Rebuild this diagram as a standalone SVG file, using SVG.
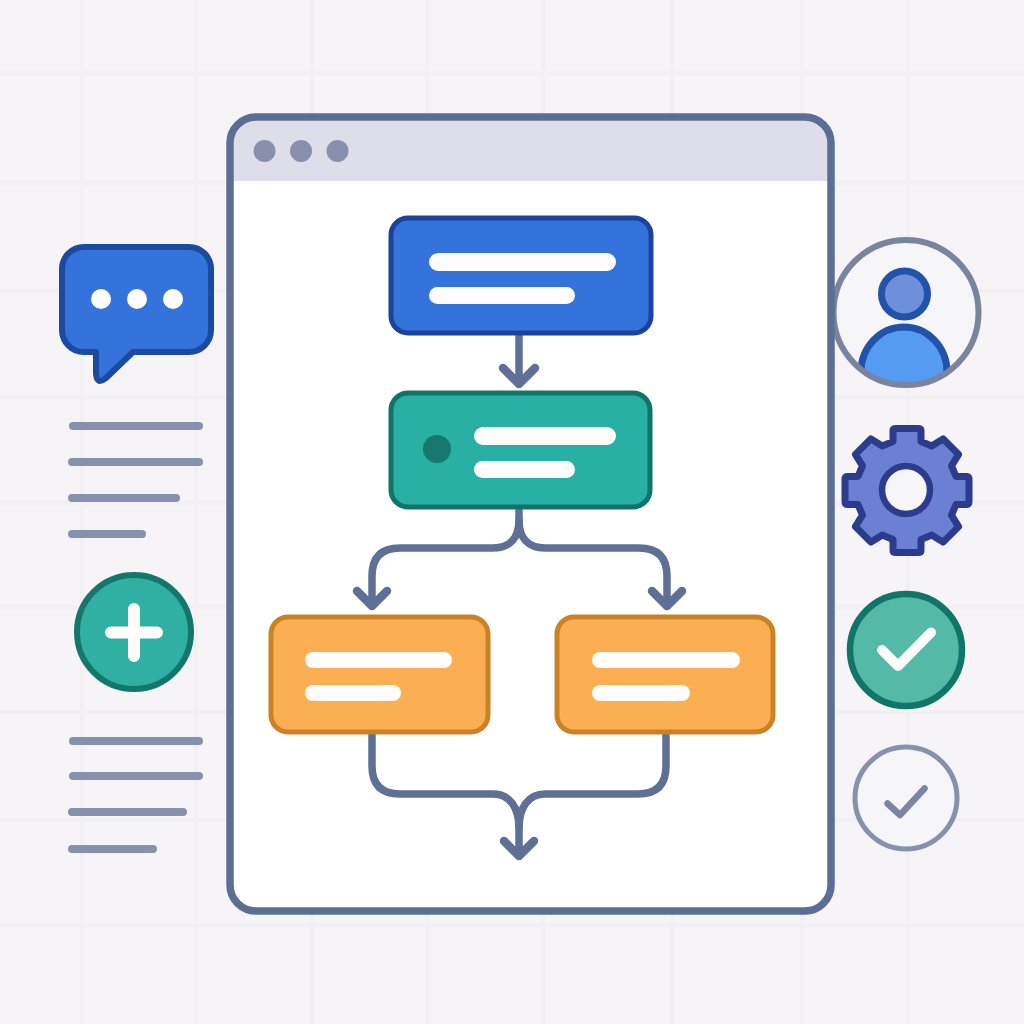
<svg xmlns="http://www.w3.org/2000/svg" width="1024" height="1024" viewBox="0 0 1024 1024">
<style>
.grid{stroke:#f2f0f3;stroke-width:4;fill:none}
.wire{stroke:#5f7096;stroke-width:7.5;fill:none;stroke-linecap:round;stroke-linejoin:round}
.head{stroke-width:8.500}
.bar{fill:#fefdfb}
.line{stroke:#8790ad;stroke-width:8;stroke-linecap:round}
.blue{fill:#3573dc;stroke:#1c439c;stroke-width:5}
.teal{fill:#29b0a5;stroke:#117468;stroke-width:5}
.orange{fill:#fcae52;stroke:#cb8126;stroke-width:5}
</style>
<rect width="1024" height="1024" fill="#f6f4f7"/>
<g id="grid" class="grid">
<path d="M0 73H1024M0 183H1024M0 291H1024M0 397H1024M0 503H1024M0 607H1024M0 712H1024M0 820H1024M0 925H1024"/>
<path d="M82 0V1024M196 0V1024M312 0V1024M427 0V1024M543 0V1024M672 0V1024M802 0V1024M908 0V1024"/>
</g>
<g id="user">
<circle cx="906" cy="312.500" r="72.500" fill="#f6f5f8"/>
<clipPath id="userclip"><circle cx="906" cy="312.500" r="72"/></clipPath>
<g clip-path="url(#userclip)">
<path d="M861 400V372a43 45 0 0 1 86 0V400Z" fill="#559af3" stroke="#2153a8" stroke-width="7"/>
</g>
<circle cx="904.500" cy="294" r="23" fill="#6d8fdc" stroke="#2153a8" stroke-width="7"/>
<circle cx="906" cy="312.500" r="72.500" fill="none" stroke="#7a849f" stroke-width="6"/>
</g>
<g id="window">
<rect x="230" y="117" width="601" height="794" rx="26" fill="#fff"/>
<path d="M230 181V143a26 26 0 0 1 26-26H805a26 26 0 0 1 26 26V181Z" fill="#dddee9"/>
<rect x="230" y="117" width="601" height="794" rx="26" fill="none" stroke="#5c6e94" stroke-width="7.500"/>
<circle cx="264.500" cy="151" r="11" fill="#8890ad"/>
<circle cx="301" cy="151" r="11" fill="#8890ad"/>
<circle cx="337.500" cy="151" r="11" fill="#8890ad"/>
</g>
<g id="connectors" class="wire">
<path d="M519 334V384"/>
<path class="head" d="M503 368L519 384L535 368"/>
<path d="M519 508V520C519 538 510 548 493 548H400Q372 548 372 576V606"/>
<path class="head" d="M357 591L372 606L387 591"/>
<path d="M519 520C519 538 528 548 545 548H639Q667 548 667 576V606"/>
<path class="head" d="M652 591L667 606L682 591"/>
<path d="M372 733V766Q372 794 400 794H493C510 794 519 808 519 828V856"/>
<path d="M666 733V766Q666 794 638 794H545C528 794 519 808 519 828"/>
<path class="head" d="M504 841L519 856L534 841"/>
</g>
<g id="node-start">
<rect class="blue" x="391" y="218" width="260" height="115" rx="17"/>
<rect class="bar" x="429" y="253" width="187" height="18" rx="9"/>
<rect class="bar" x="429" y="287" width="146" height="17" rx="8.500"/>
</g>
<g id="node-process">
<rect class="teal" x="391" y="393" width="259" height="114" rx="17"/>
<circle cx="437" cy="449" r="14" fill="#17786d"/>
<rect class="bar" x="474" y="427" width="142" height="18" rx="9"/>
<rect class="bar" x="474" y="461" width="101" height="17" rx="8.500"/>
</g>
<g id="node-left">
<rect class="orange" x="271" y="617" width="217" height="115" rx="17"/>
<rect class="bar" x="305" y="652" width="147" height="16" rx="8"/>
<rect class="bar" x="305" y="685" width="96" height="16" rx="8"/>
</g>
<g id="node-right">
<rect class="orange" x="557" y="617" width="216" height="115" rx="17"/>
<rect class="bar" x="592" y="652" width="148" height="16" rx="8"/>
<rect class="bar" x="592" y="685" width="98" height="16" rx="8"/>
</g>
<g id="chat">
<path d="M84 247H189A22 22 0 0 1 211 269V330A22 22 0 0 1 189 352H133L106 378Q96 386 96 372V352H84A22 22 0 0 1 62 330V269A22 22 0 0 1 84 247Z" fill="#3573dc" stroke="#1c4a9e" stroke-width="6" stroke-linejoin="round"/>
<circle cx="101" cy="299" r="10" fill="#fefdfb"/>
<circle cx="137" cy="299" r="10" fill="#fefdfb"/>
<circle cx="173" cy="299" r="10" fill="#fefdfb"/>
</g>
<g id="text-lines-top" class="line">
<path d="M73 426H199M72 462H199M72 498H176M72 534H142"/>
</g>
<g id="add">
<circle cx="134" cy="632" r="57" fill="#2fb0a2" stroke="#14776b" stroke-width="6"/>
<path d="M134 609V656M111 632.500H157" stroke="#fefdfb" stroke-width="12" stroke-linecap="round"/>
</g>
<g id="text-lines-bottom" class="line">
<path d="M73 741H199M73 776H199M72 812H183M72 849H153"/>
</g>
<g id="gear">
<path d="M893 441.500V430.500Q893 428.500 896 428.500H918Q921 428.500 921 430.500V441.500L931.700 446L943.100 438.900L958.600 454.400L951.500 465.800L956 476.500H967Q969 476.500 969 479.500V501.500Q969 504.500 967 504.500H956L951.500 515.200L958.600 526.600L943.100 542.100L931.700 535L921 539.500V550.500Q921 552.500 918 552.500H896Q893 552.500 893 550.500V539.500L882.300 535L870.900 542.100L855.400 526.600L862.500 515.200L858 504.500H847Q845 504.500 845 501.500V479.500Q845 476.500 847 476.500H858L862.500 465.800L855.400 454.400L870.900 438.900L882.300 446Z" fill="#6b80d3" stroke="#2b3c8c" stroke-width="7" stroke-linejoin="round"/>
<circle cx="906" cy="490" r="24" fill="#f6f5f8" stroke="#2b3c8c" stroke-width="6.500"/>
</g>
<g id="check-filled">
<circle cx="906" cy="650" r="56" fill="#55b9a8" stroke="#0f7668" stroke-width="6.500"/>
<path d="M882 650L898 666L931 632.500" fill="none" stroke="#fefdfb" stroke-width="10" stroke-linecap="round" stroke-linejoin="round"/>
</g>
<g id="check-outline">
<circle cx="906" cy="798" r="51" fill="#f6f5f8" stroke="#8790ad" stroke-width="5"/>
<path d="M887.500 803.500L900 815L924.500 788.500" fill="none" stroke="#7c85a6" stroke-width="6.500" stroke-linecap="round" stroke-linejoin="round"/>
</g>
</svg>
